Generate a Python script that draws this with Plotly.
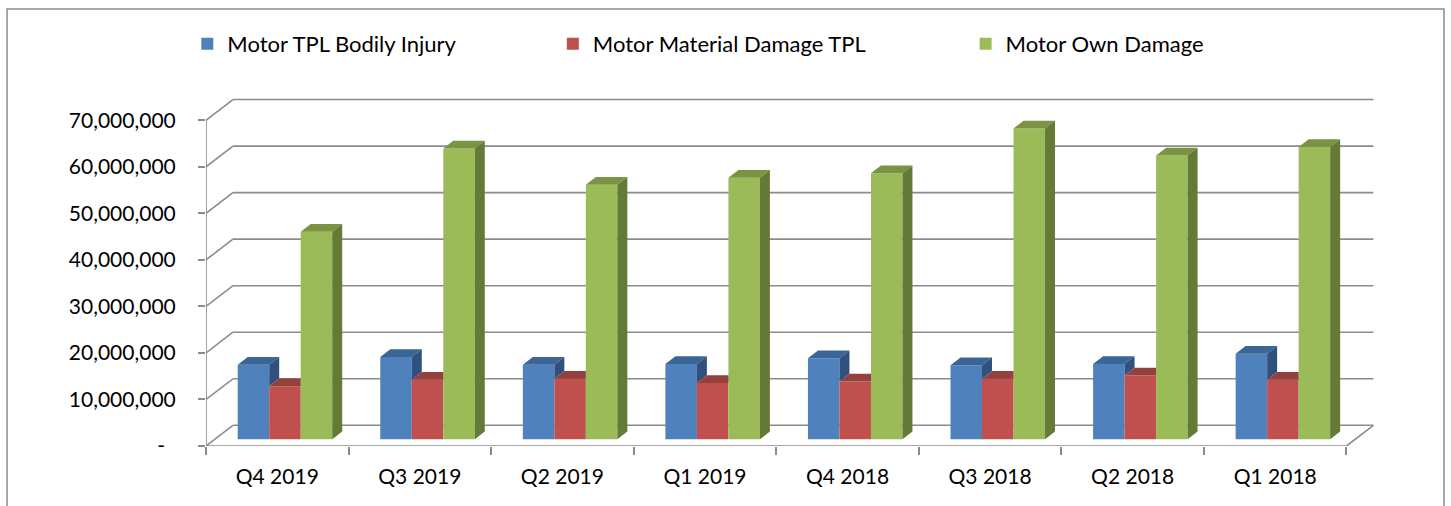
import plotly.graph_objects as go

# ---------------- data ----------------
categories = ["Q4 2019", "Q3 2019", "Q2 2019", "Q1 2019", "Q4 2018", "Q3 2018", "Q2 2018", "Q1 2018"]
series_names = ["Motor TPL Bodily Injury", "Motor Material Damage TPL", "Motor Own Damage"]
bodily_injury = [16.0e6, 17.7e6, 16.0e6, 16.2e6, 17.4e6, 15.9e6, 16.2e6, 18.4e6]
material_damage = [11.4e6, 12.8e6, 13.0e6, 12.1e6, 12.4e6, 13.0e6, 13.7e6, 12.8e6]
own_damage = [44.6e6, 62.5e6, 54.7e6, 56.2e6, 57.2e6, 66.8e6, 61.0e6, 62.8e6]
y_tick_values = [0, 10e6, 20e6, 30e6, 40e6, 50e6, 60e6, 70e6]
y_tick_labels = ["-\u00a0\u00a0", "10,000,000", "20,000,000", "30,000,000",
                 "40,000,000", "50,000,000", "60,000,000", "70,000,000"]

# ---------------- style ----------------
front_colors = ["#4F81BD", "#C0504D", "#9BBB59"]
top_colors = ["#3B6596", "#94403D", "#7A9443"]
side_colors = ["#30517D", "#7E2F2D", "#647A37"]
grid_color = "#8C8C8C"
FONT = "Lato, Carlito, 'Noto Sans', sans-serif"
FS = 21

# pseudo-3D geometry (axis units)
WALL_DX, WALL_DY = 0.189, 4.45e6      # depth of the floor / side wall
BAR_SHIFT_X, BAR_BASE = 0.054, 1.44e6  # position of the bars' front plane
BAR_DX, BAR_DY = 0.070, 1.66e6         # depth of one bar
BAR_W = 0.221

series_values = [bodily_injury, material_damage, own_damage]
n = len(categories)
centers = [i + 0.5 + BAR_SHIFT_X for i in range(n)]

fig = go.Figure()

# front faces as real bars
legend_ids = ["legend", "legend2", "legend3"]
for s, (name, vals) in enumerate(zip(series_names, series_values)):
    fig.add_trace(go.Bar(
        x=centers, y=vals, base=BAR_BASE, width=BAR_W, offset=(s - 1.5) * BAR_W,
        name=name, marker=dict(color=front_colors[s], line=dict(width=0)),
        legend=legend_ids[s], hoverinfo="skip"))

# top and side faces, clipped where the next bar of the group hides them
for s, vals in enumerate(series_values):
    tx, ty, sx, sy = [], [], [], []
    for i in range(n):
        xL = centers[i] + (s - 1.5) * BAR_W
        xR = xL + BAR_W
        yt = BAR_BASE + vals[i]
        yn = BAR_BASE + series_values[s + 1][i] if s < 2 else None
        # top face
        if yn is None or yn <= yt:
            px = [xL, xR, xR + BAR_DX, xL + BAR_DX, xL]
            py = [yt, yt, yt + BAR_DY, yt + BAR_DY, yt]
        elif yn >= yt + BAR_DY:
            px = [xL, xR, xR, xL + BAR_DX, xL]
            py = [yt, yt, yt + BAR_DY, yt + BAR_DY, yt]
        else:
            xc = xR + BAR_DX * (yt + BAR_DY - yn) / BAR_DY
            px = [xL, xR, xR, xc, xL + BAR_DX, xL]
            py = [yt, yt, yn, yt + BAR_DY, yt + BAR_DY, yt]
        tx += px + [None]
        ty += py + [None]
        # side face
        bottom = BAR_BASE if yn is None else max(BAR_BASE, yn)
        if bottom < yt:
            sx += [xR, xR + BAR_DX, xR + BAR_DX, xR, xR, None]
            sy += [bottom, bottom + BAR_DY, yt + BAR_DY, yt, bottom, None]
    fig.add_trace(go.Scatter(x=tx, y=ty, mode="lines", fill="toself",
                             fillcolor=top_colors[s], line=dict(width=0, color=top_colors[s]),
                             showlegend=False, hoverinfo="skip"))
    if sx:
        fig.add_trace(go.Scatter(x=sx, y=sy, mode="lines", fill="toself",
                                 fillcolor=side_colors[s], line=dict(width=0, color=side_colors[s]),
                                 showlegend=False, hoverinfo="skip"))

# walls, floor and front axis lines (below the bars)
shapes = []
gl = dict(color=grid_color, width=1.6)
for v in y_tick_values:
    shapes.append(dict(type="line", xref="x", yref="y", x0=0, y0=v, x1=WALL_DX, y1=v + WALL_DY,
                       line=gl, layer="below"))
    shapes.append(dict(type="line", xref="x", yref="y", x0=WALL_DX, y0=v + WALL_DY,
                       x1=n + WALL_DX, y1=v + WALL_DY, line=gl, layer="below"))
shapes.append(dict(type="line", xref="x", yref="y", x0=0, y0=0, x1=n, y1=0, line=gl, layer="below"))
shapes.append(dict(type="line", xref="x", yref="y", x0=n, y0=0, x1=n + WALL_DX, y1=WALL_DY,
                   line=gl, layer="below"))
shapes.append(dict(type="line", xref="x", yref="y", x0=0, y0=0, x1=0, y1=y_tick_values[-1],
                   line=gl, layer="below"))
# chart border
shapes.append(dict(type="rect", xref="paper", yref="paper", x0=-0.1702, x1=1.0590, y0=-0.25, y1=1.2521,
                   line=dict(color=grid_color, width=1.5), layer="below"))

legend_common = dict(orientation="h", yanchor="middle", xanchor="left", y=1.152,
                     font=dict(family=FONT, size=22, color="#000000"),
                     bgcolor="rgba(0,0,0,0)", itemwidth=30)
fig.update_layout(
    width=1451, height=506, autosize=False,
    margin=dict(l=206, r=76, t=97, b=60),
    paper_bgcolor="white", plot_bgcolor="white",
    barmode="overlay",
    shapes=shapes,
    legend=dict(x=-0.0160, **legend_common),
    legend2=dict(x=0.2967, **legend_common),
    legend3=dict(x=0.6498, **legend_common),
    xaxis=dict(range=[0, 8.2], showgrid=False, zeroline=False, showline=False,
               tickvals=[i + 0.5 for i in range(n)], ticktext=categories, ticks="",
               ticklabelstandoff=16,
               tickfont=dict(family=FONT, size=FS, color="#000000"),
               minor=dict(tickvals=list(range(n + 1)), ticks="outside", ticklen=8,
                          tickcolor=grid_color, tickwidth=1.6, showgrid=False)),
    yaxis=dict(range=[0, 75e6], showgrid=False, zeroline=False, showline=False,
               tickvals=y_tick_values, ticktext=y_tick_labels, ticks="outside",
               ticklen=7, tickcolor=grid_color, tickwidth=1.6, ticklabelstandoff=18,
               tickfont=dict(family=FONT, size=FS, color="#000000")),
)

fig.write_html("out.html", config={"displayModeBar": False},
               post_script="document.body.style.margin='0px';document.body.style.overflow='hidden';")
